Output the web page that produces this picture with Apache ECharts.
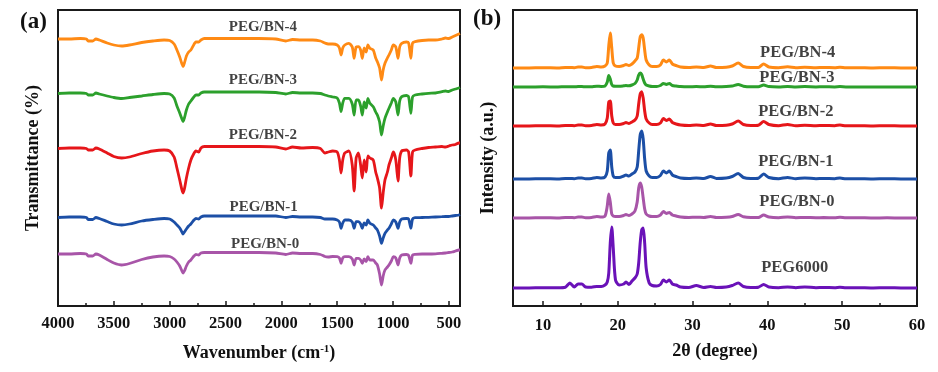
<!DOCTYPE html>
<html>
<head>
<meta charset="utf-8">
<script src="https://cdn.jsdelivr.net/npm/echarts@6/dist/echarts.min.js"></script>
<style>
html,body{margin:0;padding:0;background:#fff;}
#chart{width:938px;height:372px;}
</style>
</head>
<body>
<div id="chart"></div>
<script>
// ---------- (a) FTIR data: wavenumber (cm-1) and offset transmittance (a.u.) ----------
const ftirWavenumber = [
  4000, 3900, 3800, 3745, 3730, 3690, 3660, 3630, 3560, 3500,
  3430, 3360, 3250, 3150, 3050, 3000, 2960, 2935, 2910, 2890,
  2880, 2868, 2850, 2830, 2810, 2790, 2765, 2740, 2720, 2690,
  2600, 2400, 2200, 2050, 1960, 1900, 1822, 1720, 1650, 1610,
  1580, 1540, 1500, 1480, 1465, 1450, 1432, 1395, 1365, 1348,
  1330, 1310, 1290, 1275, 1258, 1240, 1225, 1207, 1177, 1155,
  1140, 1120, 1103, 1088, 1072, 1050, 1036, 1015, 997, 975,
  955, 940, 922, 880, 860, 840, 825, 802, 740, 682,
  620, 562, 530, 500, 470, 440, 410, 400
];
const ftirBN4 = [
  267, 267, 267.5, 267, 265, 265, 267, 266, 263, 261,
  260, 261, 263.5, 265, 266, 265.5, 262, 256, 249, 242,
  239.5, 243, 250, 254, 256, 260, 264, 264, 266, 267.5,
  267.5, 267.5, 267.5, 267, 265, 266.5, 266, 266, 265, 263,
  262, 262, 261, 258, 251, 258, 261, 262.7, 259, 247.7,
  259, 259.3, 256, 247.7, 258, 254, 261, 257.7, 256, 248,
  244.3, 238, 226, 236, 242.7, 248, 251, 256, 261, 259,
  247.7, 259, 262.7, 264, 263, 247.7, 263, 264.3, 265.5, 266,
  266, 267, 268, 267.5, 269, 270.5, 272, 272.5
];
const ftirBN3 = [
  212.5, 213, 213, 212.5, 211, 211, 213, 212, 210, 208.5,
  207.5, 208.5, 210, 211.5, 212.5, 212, 208, 200, 193, 187,
  184.5, 188, 196, 202, 205, 208, 211, 211, 213, 214,
  214, 214, 214, 213.5, 212, 213.5, 213, 213, 212.5, 211,
  210, 209, 208, 203, 194.5, 203, 207.7, 207.7, 202, 191,
  206, 206, 200, 191, 204, 198, 207.7, 202.7, 199.3, 194,
  191, 184, 171, 180, 187.7, 194, 197.7, 203, 207.7, 204,
  191, 205, 209.3, 210.5, 209, 192.7, 209, 211, 212, 212.7,
  213, 214.3, 215, 214.5, 216, 217, 218, 218.5
];
const ftirBN2 = [
  157.5, 158, 158, 157.5, 156, 156, 158, 157, 153, 149.5,
  148, 149, 152.5, 155, 156, 155, 149, 138, 126, 116,
  113, 117, 128, 138, 146, 151, 155, 154, 158, 159.5,
  159.5, 159.5, 159.5, 159, 157, 159, 158, 158.5, 157.5, 153,
  154, 155, 154, 146, 133, 146, 153, 155, 141, 115,
  148, 153, 141, 128, 146, 134, 150, 148, 146, 134,
  128, 118, 98, 113, 126, 134, 141, 148, 154, 146,
  125, 148, 155, 156, 154, 130, 154, 156, 157.5, 158.5,
  159, 159.5, 159, 160, 161, 161.5, 163, 163
];
const ftirBN1 = [
  88.5, 89, 89, 88.5, 86.5, 86.5, 88.5, 87.5, 84.5, 82,
  81, 82, 85, 86.5, 87.5, 87, 84, 81, 78, 74,
  72, 74, 77, 80, 82, 85, 87.5, 87, 89, 90,
  90, 90, 90, 90, 88.5, 89.5, 89, 89, 88.5, 87,
  87, 87, 86, 84, 77.7, 83, 86, 86, 84, 77.7,
  84.3, 84.3, 82, 77.7, 83, 81, 86, 82.7, 81, 78,
  76, 70, 62.7, 68, 72.7, 76, 77.7, 82, 86, 84,
  77.7, 84, 87, 87.5, 87, 77.7, 87, 88.3, 88.5, 88.7,
  89, 89.3, 89.5, 89.5, 90, 90.5, 91, 91.5
];
const ftirBN0 = [
  52, 52, 52.5, 52, 50, 50, 52, 51, 46.5, 43,
  41, 42.5, 46.5, 49, 50, 49.5, 47, 44, 40, 35,
  33, 35, 40, 44, 46, 49, 51.5, 51, 53, 53.5,
  53.5, 53.5, 53.5, 53, 51.5, 53, 52.5, 52.5, 51.5, 49.5,
  49, 49.5, 49.3, 48, 42.7, 48, 49.3, 49.3, 47, 41,
  47.7, 47.7, 46, 42.7, 47, 44.5, 49.3, 46, 46, 43,
  41, 32, 21, 30, 36, 39, 41, 45, 49.3, 48,
  41, 48, 51, 51.5, 50.5, 42.7, 51, 51.7, 52, 52,
  52.2, 52.7, 53, 53.5, 54, 55, 56, 56
];
const ftirTicks = [4000, 3500, 3000, 2500, 2000, 1500, 1000, 500];
const ftirMinorTicks = [3750, 3250, 2750, 2250, 1750, 1250, 750];

// ---------- (b) XRD data: 2theta (degree) and offset intensity (a.u.) ----------
const xrdTheta = [
  6, 8, 10, 12, 13, 13.6, 14.2, 14.7, 15.2, 15.7,
  16.5, 17.2, 17.8, 18.3, 18.6, 18.8, 19.0, 19.2, 19.4, 19.7,
  20.2, 20.8, 21.1, 21.5, 21.9, 22.3, 22.6, 22.8, 23.0, 23.2,
  23.4, 23.6, 23.8, 24.2, 24.6, 25.2, 25.7, 26.1, 26.5, 26.9,
  27.3, 27.8, 28.4, 29.5, 30.5, 31.5, 32.4, 33.2, 34.5, 35.3,
  36.1, 36.8, 37.8, 38.8, 39.5, 40.2, 41.5, 42.7, 43.8, 45.0,
  46.5, 47.5, 49.0, 49.7, 50.5, 52, 54, 56, 58, 60
];
const xrdBN4 = [
  238, 238, 238.3, 238, 238.5, 238.5, 238.3, 239, 239, 238.3,
  238.5, 239.5, 239, 240, 243, 260, 273, 258, 243, 240,
  239.5, 240.5, 241.5, 240.5, 242, 245, 248, 258, 269, 271.3,
  268, 256, 246, 241, 239.5, 239.5, 241, 246, 244, 246,
  242, 240.5, 239, 238.5, 239, 238.5, 240, 238.5, 238.8, 240,
  243, 239.5, 238.5, 238.5, 242, 239, 238.3, 239.2, 238.3, 238.8,
  238.3, 238.5, 238.3, 238.8, 238.2, 238.3, 238, 238.3, 238, 238
];
const xrdBN3 = [
  219, 219, 219.2, 219, 219.3, 219.3, 219.2, 219.5, 219.5, 219.2,
  219.3, 219.8, 219.5, 220, 224, 230.5, 227, 221.5, 220, 219.8,
  219.8, 220.2, 220.5, 220.2, 221, 222.5, 226, 231, 233, 231.5,
  227, 223, 221, 220, 219.5, 219.5, 220.5, 222.5, 221.5, 222.5,
  220.5, 220, 219.4, 219.2, 219.5, 219.2, 219.8, 219.2, 219.4, 220,
  221.5, 219.8, 219.2, 219.2, 221, 219.5, 219.1, 219.5, 219.1, 219.4,
  219.1, 219.2, 219.1, 219.4, 219.1, 219.1, 219, 219.1, 219, 219
];
const xrdBN2 = [
  180, 180, 180.3, 180, 180.5, 180.5, 180.3, 181, 181, 180.3,
  180.5, 181.5, 181, 182, 188, 204, 205, 190, 183, 181.5,
  181.5, 182.5, 183.5, 182.5, 184, 186, 190, 202, 212, 214.3,
  208, 195, 187, 183, 181.5, 181.5, 183, 187.5, 185.5, 187,
  183.5, 182, 181, 180.5, 181, 180.5, 182, 180.5, 180.8, 182,
  185, 181.5, 180.5, 180.8, 184.5, 181.5, 180.3, 181.5, 180.3, 180.8,
  180.3, 180.5, 180.3, 181, 180.2, 180.3, 180, 180.3, 180, 180
];
const xrdBN1 = [
  127, 127, 127.3, 127, 127.5, 127.5, 127.3, 128, 128, 127.3,
  127.5, 128.5, 128, 129, 135, 153, 156, 139, 130, 128.5,
  128.5, 130, 131, 130, 132, 134, 139, 155, 171, 175,
  167, 147, 135, 130, 128.5, 128.5, 130.5, 135, 133, 135,
  131, 129.5, 128, 127.5, 128, 127.5, 129.5, 127.5, 128, 129.5,
  132.5, 128.5, 127.5, 127.8, 132, 128.5, 127.3, 128.5, 127.3, 128,
  127.3, 127.5, 127.3, 128, 127.2, 127.3, 127, 127.3, 127, 127
];
const xrdBN0 = [
  88, 88, 88.3, 88, 88.5, 88.5, 88.3, 89, 89, 88.3,
  88.5, 89.5, 89, 90, 100, 112, 104, 92, 90, 89.5,
  89.5, 90.5, 91.5, 90.5, 92, 95, 104, 118, 123, 119,
  108, 97, 92, 90, 89.5, 89.5, 91, 94.5, 92.5, 93.5,
  91, 90, 89, 88.5, 88.8, 88.5, 89.5, 88.5, 88.8, 89.5,
  91.5, 89.2, 88.5, 88.5, 91, 89, 88.3, 89, 88.3, 88.6,
  88.3, 88.4, 88.3, 88.7, 88.2, 88.3, 88, 88.2, 88, 88
];
const xrdPEG6000 = [
  18, 18, 18.3, 18.3, 18.8, 23, 19, 22, 22, 19,
  18.8, 19.5, 19.5, 21, 24, 33, 63, 79, 58, 26,
  21, 22, 24, 21.5, 25, 28, 32, 43, 63, 76,
  78, 63, 38, 23, 20.5, 20, 21.5, 26, 24, 26,
  22, 21, 19, 18.5, 20.5, 18.5, 19.5, 18.5, 19, 20.5,
  23, 19.5, 18.5, 18.8, 21.5, 19, 18.3, 19, 18.3, 19,
  18.3, 18.5, 18.3, 18.8, 18.2, 18.3, 18, 18.3, 18, 18
];
const xrdTicks = [10, 20, 30, 40, 50, 60];
const xrdMinorTicks = [15, 25, 35, 45, 55];

// series names
const ftirNames = ['PEG/BN-4', 'PEG/BN-3', 'PEG/BN-2', 'PEG/BN-1', 'PEG/BN-0'];
const xrdNames = ['PEG/BN-4', 'PEG/BN-3', 'PEG/BN-2', 'PEG/BN-1', 'PEG/BN-0', 'PEG6000'];

// curve label anchors (data coordinates)
const ftirLabelX = [2165, 2165, 2165, 2158, 2145];
const ftirLabelY = [279.3, 226, 171, 99.3, 62];
const xrdLabelX = [44.05, 43.95, 43.8, 43.8, 43.95, 43.65];
const xrdLabelY = [253.5, 228.2, 194.5, 143.8, 103.8, 37.8];

// ---------- styling ----------
const FONT = "'Liberation Serif', 'Times New Roman', serif";
const INK = '#111';
const colorsFtir = ['#ff8a14', '#2ca02c', '#e6161a', '#1c4fa6', '#a855a8'];
const colorsXrd = ['#ff8a14', '#2ca02c', '#e6161a', '#1c4fa6', '#a855a8', '#6a12b8'];

const zip = (xs, ys) => xs.map((x, i) => [x, ys[i]]);
const ftirSets = [ftirBN4, ftirBN3, ftirBN2, ftirBN1, ftirBN0];
const xrdSets = [xrdBN4, xrdBN3, xrdBN2, xrdBN1, xrdBN0, xrdPEG6000];

const txt = (size) => ({ fontFamily: FONT, fontWeight: 'bold', fontSize: size, color: INK });

function majorAxis(gridIndex, min, max, inverse, ticks, name, gap, margin) {
  return {
    gridIndex, type: 'value', min, max, inverse, position: 'bottom',
    axisLine: { show: false },
    splitLine: { show: false },
    axisTick: { show: true, inside: true, length: 5, customValues: ticks,
      lineStyle: { color: '#1a1a1a', width: 1.5 } },
    axisLabel: Object.assign({ customValues: ticks, margin, formatter: v => String(v) }, txt(16.5)),
    name, nameLocation: 'middle', nameGap: gap,
    nameTextStyle: Object.assign({}, txt(18), {
      rich: { sup: { fontFamily: FONT, fontWeight: 'bold', fontSize: 11, color: INK, verticalAlign: 'top', padding: [0, 0, 8, 0] } }
    })
  };
}
function minorAxis(gridIndex, min, max, inverse, ticks) {
  return {
    gridIndex, type: 'value', min, max, inverse, position: 'bottom',
    axisLine: { show: false }, splitLine: { show: false },
    axisLabel: { show: false },
    axisTick: { show: true, inside: true, length: 3, customValues: ticks,
      lineStyle: { color: '#1a1a1a', width: 1.5 } }
  };
}
function yAxis(gridIndex, name, gap) {
  return {
    gridIndex, type: 'value', min: 0, max: 296,
    axisLine: { show: false }, axisTick: { show: false }, axisLabel: { show: false }, splitLine: { show: false },
    name, nameLocation: 'middle', nameRotate: 90, nameGap: gap,
    nameTextStyle: txt(18)
  };
}

const series = [];
ftirSets.forEach((vals, i) => {
  series.push({
    type: 'line', name: 'FTIR ' + ftirNames[i], xAxisIndex: 0, yAxisIndex: 0,
    data: zip(ftirWavenumber, vals), showSymbol: false, symbol: 'none', smooth: 0.25,
    lineStyle: { color: colorsFtir[i], width: 2.8 }, silent: true, z: 3
  });
});
xrdSets.forEach((vals, i) => {
  series.push({
    type: 'line', name: 'XRD ' + xrdNames[i], xAxisIndex: 2, yAxisIndex: 1,
    data: zip(xrdTheta, vals), showSymbol: false, symbol: 'none', smooth: 0.25,
    lineStyle: { color: colorsXrd[i], width: 3 }, silent: true, z: 3
  });
});
series.push({
  type: 'scatter', xAxisIndex: 0, yAxisIndex: 0, symbolSize: 1, silent: true, z: 10,
  itemStyle: { color: 'rgba(0,0,0,0)' },
  data: ftirNames.map((n, i) => [ftirLabelX[i], ftirLabelY[i], n]),
  label: Object.assign({ show: true, position: 'inside', formatter: p => p.data[2] }, txt(15))
});
series.push({
  type: 'scatter', xAxisIndex: 2, yAxisIndex: 1, symbolSize: 1, silent: true, z: 10,
  itemStyle: { color: 'rgba(0,0,0,0)' },
  data: xrdNames.map((n, i) => [xrdLabelX[i], xrdLabelY[i], n]),
  label: Object.assign({ show: true, position: 'inside', formatter: p => p.data[2] }, txt(16.5))
});

const chart = echarts.init(document.getElementById('chart'), null, { renderer: 'canvas' });
chart.setOption({
  animation: false,
  backgroundColor: '#fff',
  title: [
    { text: '(a)', left: 15, top: 6, textStyle: txt(23) },
    { text: '(b)', left: 468, top: 3, textStyle: txt(23) }
  ],
  grid: [
    { left: 58, top: 10, width: 402, height: 296, show: true, borderColor: '#1a1a1a', borderWidth: 2, backgroundColor: 'rgba(0,0,0,0)' },
    { left: 513, top: 10, width: 404, height: 296, show: true, borderColor: '#1a1a1a', borderWidth: 2, backgroundColor: 'rgba(0,0,0,0)' }
  ],
  xAxis: [
    majorAxis(0, 400, 4000, true, ftirTicks, 'Wavenumber (cm{sup|-1})', 38, 9),
    minorAxis(0, 400, 4000, true, ftirMinorTicks),
    majorAxis(1, 6, 60, false, xrdTicks, '2θ (degree)', 36, 11),
    minorAxis(1, 6, 60, false, xrdMinorTicks)
  ],
  yAxis: [
    yAxis(0, 'Transmittance (%)', 16),
    yAxis(1, 'Intensity (a.u.)', 16)
  ],
  series
});
</script>
</body>
</html>
